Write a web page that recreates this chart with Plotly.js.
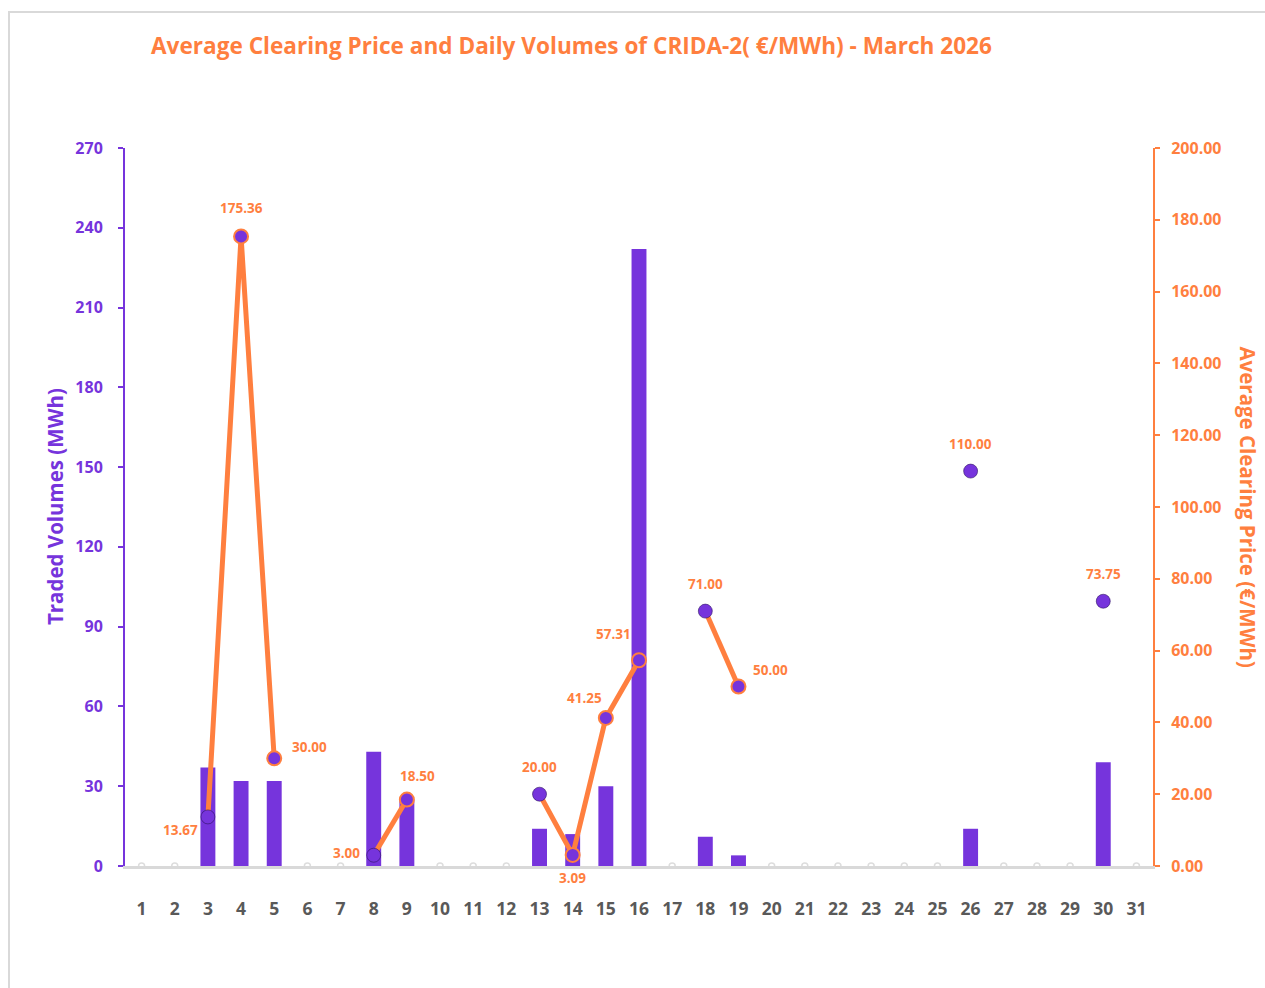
<!DOCTYPE html>
<html>
<head>
<meta charset="utf-8">
<script src="https://cdn.plot.ly/plotly-3.0.1.min.js"></script>
<style>
  html, body { margin:0; padding:0; background:#fff; overflow:hidden; }
  #frame { position:absolute; left:8px; top:11px; width:1400px; height:1100px; border:2px solid #d9d9d9; box-sizing:border-box; }
  #chart { position:absolute; left:0; top:0; width:1265px; height:988px; }
</style>
</head>
<body>
<div id="frame"></div>
<div id="chart"></div>
<script>
// ---- data ----
const days = Array.from({length: 31}, (_, i) => i + 1);
const tickLabels = days.map(String);
const volumes = [null,null,37,32,32,null,null,43,25,null,null,null,14,12,30,232,null,11,4,null,null,null,null,null,null,14,null,null,null,39,null];
const prices  = [null,null,13.67,175.36,30.00,null,null,3.00,18.50,null,null,null,20.00,3.09,41.25,57.31,null,71.00,50.00,null,null,null,null,null,null,110.00,null,null,null,73.75,null];
// label offsets (style only): [xshift, yshift]
const labelOffsets = {3:[-27,-13],4:[0,28],5:[35,11],8:[-27,2],9:[11,24],13:[0,27],14:[0,-23],15:[-21,20],16:[-26,26],18:[0,27],19:[32,17],26:[0,27],30:[0,27]};

const purple = '#7634DC';
const orange = '#FF7F3F';
const font = '"Open Sans", "Noto Sans", sans-serif';

const emptyDays = days.filter((d,i) => volumes[i] === null && prices[i] === null);

const hasPrev = prices.map((p,i) => p !== null && i > 0 && prices[i-1] !== null);
const markerLineW = hasPrev.map(h => h ? 2 : 1);
const markerLineC = hasPrev.map(h => h ? orange : 'rgba(40,15,90,0.55)');

const traces = [
  {
    type:'bar', x: days, y: volumes, yaxis:'y', width:0.45,
    marker:{color:purple}, hoverinfo:'x+y', name:'Traded Volumes'
  },
  {
    type:'scatter', mode:'markers', x: emptyDays, y: emptyDays.map(()=>0), yaxis:'y',
    marker:{size:6, color:'#ffffff', line:{color:'#dddddd', width:1.5}}, hoverinfo:'skip', showlegend:false
  },
  {
    type:'scatter', mode:'lines+markers', x: days, y: prices, yaxis:'y2', connectgaps:false,
    line:{color:orange, width:5},
    marker:{size:14, color:purple, line:{color:markerLineC, width:markerLineW}},
    name:'Average Clearing Price'
  }
];

const annotations = [];
days.forEach((d,i) => {
  if (prices[i] === null) return;
  const off = labelOffsets[d] || [0,27];
  annotations.push({
    x:d, y:prices[i], xref:'x', yref:'y2', showarrow:false,
    text: prices[i].toFixed(2), xshift:off[0], yshift:off[1],
    font:{family:font, size:13.5, color:orange, weight:700}
  });
});
annotations.push({
  xref:'paper', yref:'paper', x:-0.068, y:0.5, xanchor:'center', yanchor:'middle',
  text:'Traded Volumes (MWh)', textangle:-90, showarrow:false,
  font:{family:font, size:20.5, color:purple, weight:700}
});
annotations.push({
  xref:'paper', yref:'paper', x:1.092, y:0.5, xanchor:'center', yanchor:'middle',
  text:'Average Clearing Price (€/MWh)', textangle:90, showarrow:false,
  font:{family:font, size:20.5, color:orange, weight:700}
});

const layout = {
  width:1265, height:988,
  paper_bgcolor:'rgba(0,0,0,0)', plot_bgcolor:'rgba(0,0,0,0)',
  margin:{l:125, r:112, t:148, b:122},
  showlegend:false,
  title:{
    text:'Average Clearing Price and Daily Volumes of CRIDA-2( €/MWh) - March 2026',
    x:151/1265, xanchor:'left', xref:'container', y:1-46/988, yanchor:'middle', yref:'container',
    font:{family:font, size:22.6, color:orange, weight:700}
  },
  xaxis:{
    range:[0.5,31.5], tickmode:'array', tickvals:days, ticktext:tickLabels,
    showgrid:false, zeroline:false, showline:true, linecolor:'#d9d9d9', linewidth:2.5,
    ticks:'', ticklabelstandoff:25,
    tickfont:{family:font, size:17.5, color:'#595959', weight:700}
  },
  yaxis:{
    range:[0,270], tickmode:'array', tickvals:[0,30,60,90,120,150,180,210,240,270],
    showgrid:false, zeroline:false, showline:true, linecolor:purple, linewidth:2,
    ticks:'outside', ticklen:5, tickcolor:purple, tickwidth:2, ticklabelstandoff:12,
    tickfont:{family:font, size:16, color:purple, weight:700}
  },
  yaxis2:{
    range:[0,200], overlaying:'y', side:'right', tickmode:'array',
    tickvals:[0,20,40,60,80,100,120,140,160,180,200], tickformat:'.2f',
    showgrid:false, zeroline:false, showline:true, linecolor:orange, linewidth:2,
    ticks:'outside', ticklen:5, tickcolor:orange, tickwidth:2, ticklabelstandoff:8,
    tickfont:{family:font, size:16, color:orange, weight:700}
  },
  annotations: annotations,
  bargap:0.5
};

Plotly.newPlot('chart', traces, layout, {displayModeBar:false, staticPlot:true});
</script>
</body>
</html>
